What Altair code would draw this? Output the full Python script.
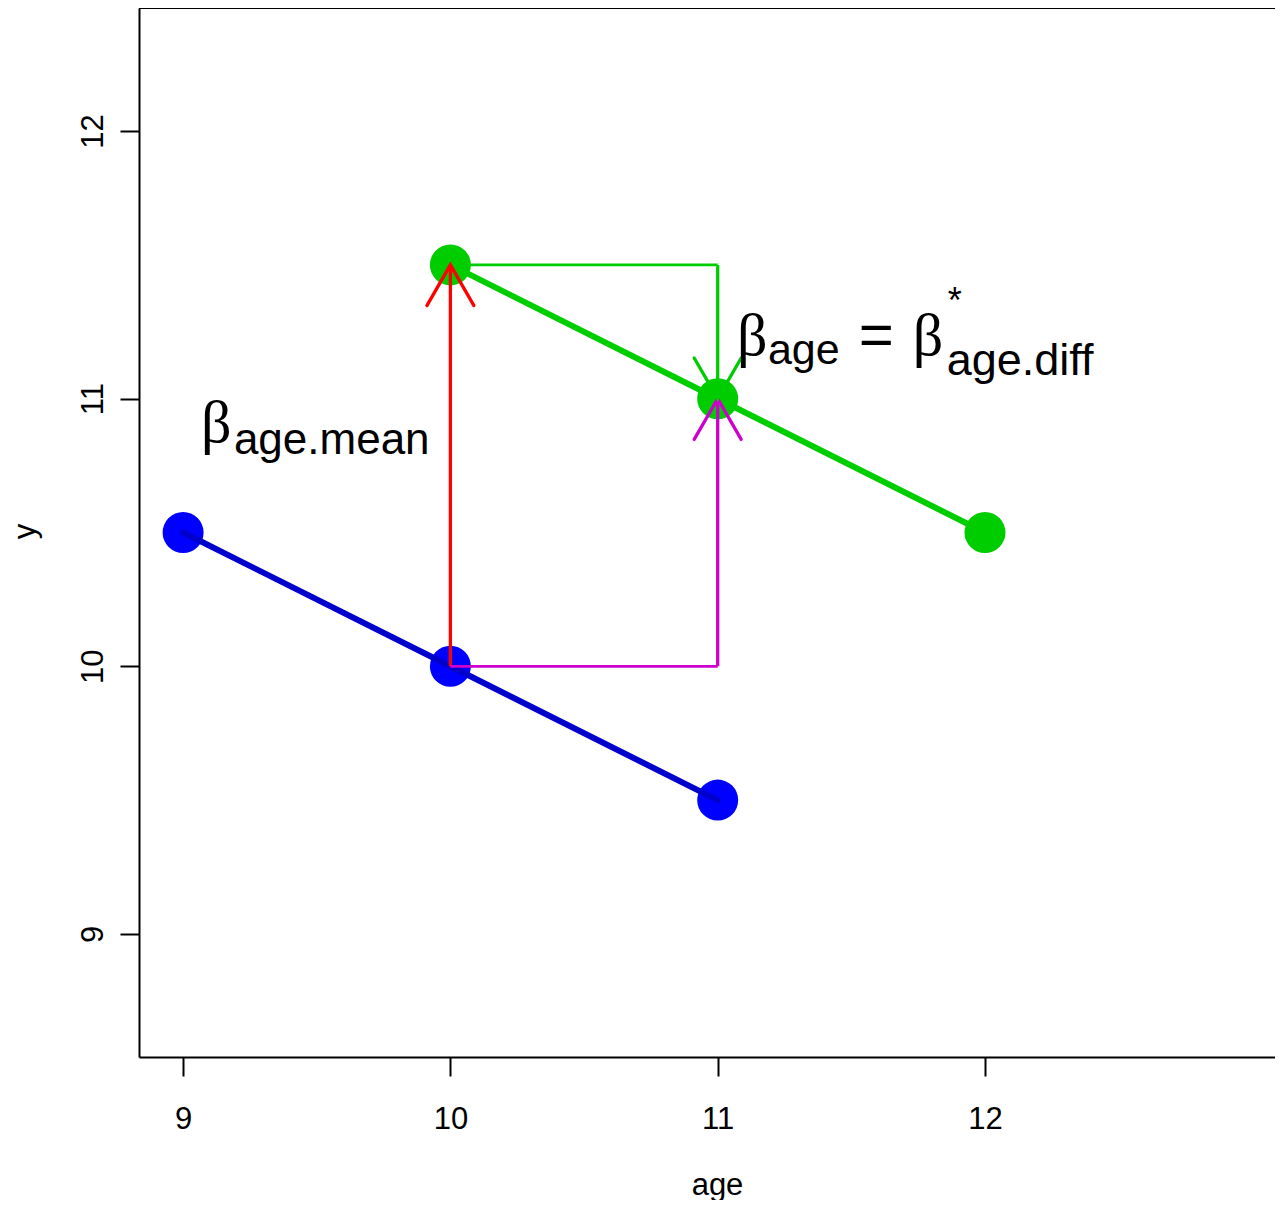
import altair as alt
import pandas as pd

# ---- data ----
blue_age = [9, 10, 11]
blue_y = [10.5, 10.0, 9.5]
green_age = [10, 11, 12]
green_y = [11.5, 11.0, 10.5]

# segments (start -> end)
seg_x = [10, 10, 11, 10, 11]
seg_y = [10.0, 10.0, 10.0, 11.5, 11.5]
seg_x2 = [10, 11, 11, 11, 11]
seg_y2 = [11.5, 10.0, 11.0, 11.5, 11.0]
seg_col = ["red", "magenta", "magenta", "green", "green"]
seg_w = [3.3, 2.7, 3.3, 2.7, 3.3]

# arrow heads (tips)
head_x = [10, 11, 11]
head_y = [11.5, 11.0, 11.0]
head_col = ["red", "magenta", "green"]
head_ang = [0, 0, 180]

x_ticks = [9, 10, 11, 12]
y_ticks = [9, 10, 11, 12]

# annotation pieces (text, x, y, font size, serif?)
ann_text = ["β", "age.mean", "β", "age", "=", "β", "*", "age.diff"]
ann_x = [9.067, 9.190, 11.072, 11.188, 11.528, 11.730, 11.861, 11.857]
ann_y = [10.838, 10.793, 11.163, 11.130, 11.163, 11.163, 11.320, 11.089]
ann_fs = [60, 44, 60, 43, 60, 60, 36, 45]
ann_serif = [True, False, True, False, False, True, False, False]

W, H = 1136, 1049
FONT = "Liberation Sans"

pts = pd.DataFrame({
    "age": blue_age + green_age,
    "y": blue_y + green_y,
    "grp": ["blue"] * 3 + ["green"] * 3,
})
segs = pd.DataFrame({"x": seg_x, "y": seg_y, "x2": seg_x2, "y2": seg_y2,
                     "col": seg_col, "w": seg_w})
heads = pd.DataFrame({"x": head_x, "y": head_y, "col": head_col, "ang": head_ang})
ann = pd.DataFrame({"t": ann_text, "x": ann_x, "y": ann_y, "fs": ann_fs, "serif": ann_serif})

xscale = alt.Scale(domain=[8.835, 13.085], nice=False, zero=False)
yscale = alt.Scale(domain=[8.54, 12.46], nice=False, zero=False)

xaxis = alt.Axis(values=x_ticks, format="d", title="age", grid=False,
                 domainColor="black", domainWidth=2, tickColor="black", tickWidth=2,
                 tickSize=19, labelFontSize=31, labelFont=FONT, labelColor="black",
                 labelPadding=28, labelFlush=False, labelOverlap=False,
                 titleFontSize=31, titleFont=FONT, titleFontWeight="normal",
                 titleColor="black", titleX=578, titleY=137, titleAlign="center",
                 titleBaseline="alphabetic")
yaxis = alt.Axis(values=y_ticks, format="d", title="y", grid=False,
                 domainColor="black", domainWidth=2, tickColor="black", tickWidth=2,
                 tickSize=19, labelFontSize=31, labelFont=FONT, labelColor="black",
                 labelAngle=270, labelAlign="center", labelBaseline="bottom",
                 labelPadding=11, labelFlush=False, labelOverlap=False,
                 titleFontSize=31, titleFont=FONT, titleFontWeight="normal",
                 titleColor="black", titleAngle=270, titleX=-105, titleY=523,
                 titleAlign="center", titleBaseline="alphabetic")


def X(f):
    return alt.X(f, type="quantitative", scale=xscale, axis=xaxis)


def Y(f):
    return alt.Y(f, type="quantitative", scale=yscale, axis=yaxis)


# one shared colour scale for points, segments and arrow heads
col_scale = alt.Scale(domain=["blue", "green", "red", "magenta"],
                      range=["#0000FF", "#00CD00", "#FF0000", "#CD00CD"])
# separate stroke scale for the connecting lines
line_scale = alt.Scale(domain=["blue", "green"], range=["#0000CD", "#00CD00"])

points = alt.Chart(pts).mark_circle(size=1681, opacity=1).encode(
    x=X("age"), y=Y("y"),
    color=alt.Color("grp:N", scale=col_scale, legend=None),
)

lines = alt.Chart(pts).mark_line(strokeWidth=6, strokeCap="round").encode(
    x=X("age"), y=Y("y"),
    stroke=alt.Stroke("grp:N", scale=line_scale, legend=None),
    detail="grp:N",
)

rules = alt.Chart(segs).mark_rule(strokeCap="butt").encode(
    x=X("x"), y=Y("y"), x2="x2", y2="y2",
    color=alt.Color("col:N", scale=col_scale, legend=None),
    strokeWidth=alt.StrokeWidth("w:Q", scale=None),
)

arrow_path = "M -0.5 0.866 L 0 0 L 0.5 0.866"
arrowheads = alt.Chart(heads).mark_point(
    shape=arrow_path, filled=False, size=8836, strokeWidth=3.3, opacity=1,
    strokeCap="round", strokeJoin="miter",
).encode(
    x=X("x"), y=Y("y"),
    color=alt.Color("col:N", scale=col_scale, legend=None),
    angle=alt.Angle("ang:Q", scale=None),
)

beta_df = ann[ann["serif"]]
sans_df = ann[~ann["serif"]]
betas = alt.Chart(beta_df).mark_text(align="left", baseline="alphabetic", color="black",
                                     font="Liberation Serif").encode(
    x=X("x"), y=Y("y"), text="t:N", size=alt.Size("fs:Q", scale=None))
sans = alt.Chart(sans_df).mark_text(align="left", baseline="alphabetic", color="black",
                                    font=FONT).encode(
    x=X("x"), y=Y("y"), text="t:N", size=alt.Size("fs:Q", scale=None))

frame_top = alt.Chart(pts).mark_rule(color="black", strokeWidth=2).encode(
    x=alt.value(0), x2=alt.value(W), y=alt.value(0))

chart = alt.layer(points, lines, rules, arrowheads, betas, sans, frame_top).properties(
    width=W, height=H,
    padding={"left": 131, "top": 0, "right": 0, "bottom": 143},
    autosize=alt.AutoSizeParams(type="none"),
).configure_view(stroke=None)

chart.save("out.html", embed_options={"renderer": "svg", "actions": False})
